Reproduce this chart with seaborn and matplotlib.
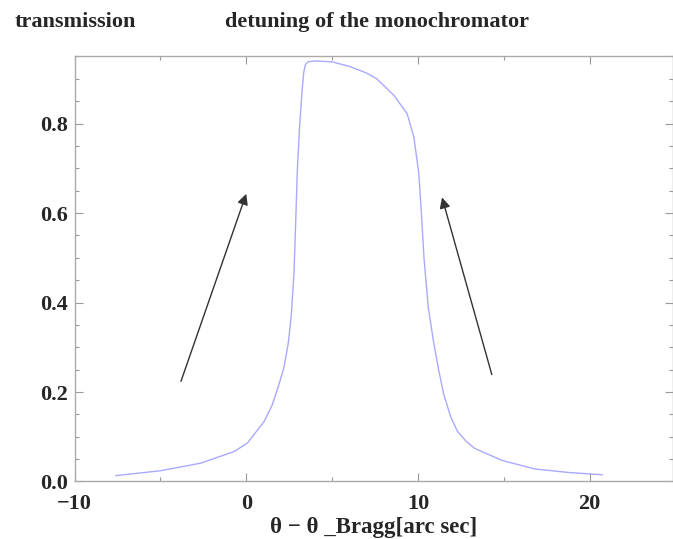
import numpy as np
import pandas as pd
import seaborn as sns
import matplotlib.pyplot as plt
from matplotlib.ticker import MultipleLocator

# transmission curve
theta = [-7.6, -5.0, -2.65, -0.7, 0.07, 1.04, 1.5, 1.85, 2.19, 2.45, 2.62, 2.78,
         2.88, 2.97, 3.1, 3.26, 3.35, 3.45, 3.6, 4.0, 5.0, 6.07, 7.0, 7.6, 8.6,
         9.37, 9.76, 10.05, 10.2, 10.35, 10.6, 10.9, 11.2, 11.5, 11.9, 12.3,
         12.8, 13.3, 14.9, 16.8, 18.8, 20.75]
trans = [0.013, 0.024, 0.041, 0.067, 0.086, 0.134, 0.17, 0.21, 0.254, 0.31,
         0.37, 0.465, 0.58, 0.69, 0.79, 0.878, 0.915, 0.932, 0.938, 0.94, 0.938,
         0.927, 0.913, 0.90, 0.863, 0.822, 0.77, 0.688, 0.60, 0.50, 0.389,
         0.314, 0.25, 0.195, 0.145, 0.112, 0.09, 0.074, 0.047, 0.028, 0.020,
         0.015]

# arrows (tail -> head), data coords
arrow_tails = [(-3.8, 0.224), (14.3, 0.239)]
arrow_heads = [(0.0, 0.643), (11.4, 0.635)]

x_ticks = [-10, 0, 10, 20]
y_ticks = [0.0, 0.2, 0.4, 0.6, 0.8]

df = pd.DataFrame({"theta": theta, "T": trans})

sns.set_theme(style="ticks")
plt.rcParams["font.family"] = ["Liberation Serif", "DejaVu Serif"]
plt.rcParams["font.weight"] = "bold"

fig = plt.figure(figsize=(6.73, 5.39), dpi=100)
ax = fig.add_axes([0.1107, 0.1067, 0.8893, 0.7894])

sns.lineplot(data=df, x="theta", y="T", ax=ax, color="#a9a9ff", lw=1.0,
             estimator=None, sort=False)

for (x0, y0), (x1, y1) in zip(arrow_tails, arrow_heads):
    ax.annotate("", xy=(x1, y1), xytext=(x0, y0),
                arrowprops=dict(arrowstyle="-|>", color="#333333", lw=1.0,
                                mutation_scale=16, shrinkA=0, shrinkB=0))

ax.set_xlim(-10, 24.85)
ax.set_ylim(0, 0.951)
ax.set_xticks(x_ticks)
ax.set_yticks(y_ticks)
ax.set_yticklabels([f"{v:.1f}" for v in y_ticks])
ax.xaxis.set_minor_locator(MultipleLocator(5))
ax.yaxis.set_minor_locator(MultipleLocator(0.05))
ax.tick_params(which="both", direction="in", top=True, right=True,
               color="#999999", labelsize=16, width=0.8)
ax.tick_params(which="major", length=6)
ax.tick_params(which="minor", length=3)
ax.tick_params(axis="x", which="major", pad=9)
ax.tick_params(axis="y", which="major", pad=5)
for s in ax.spines.values():
    s.set_color("#aaaaaa")
    s.set_linewidth(1.0)

ax.set_xlabel("θ − θ _Bragg[arc sec]", fontsize=16.5, fontweight="bold", labelpad=2)
ax.set_ylabel("")

fig.text(0.022, 0.959, "transmission", fontsize=16, fontweight="bold", va="center")
fig.text(0.334, 0.959, "detuning of the monochromator", fontsize=16,
         fontweight="bold", va="center")

fig.savefig("out.png", dpi=100)
